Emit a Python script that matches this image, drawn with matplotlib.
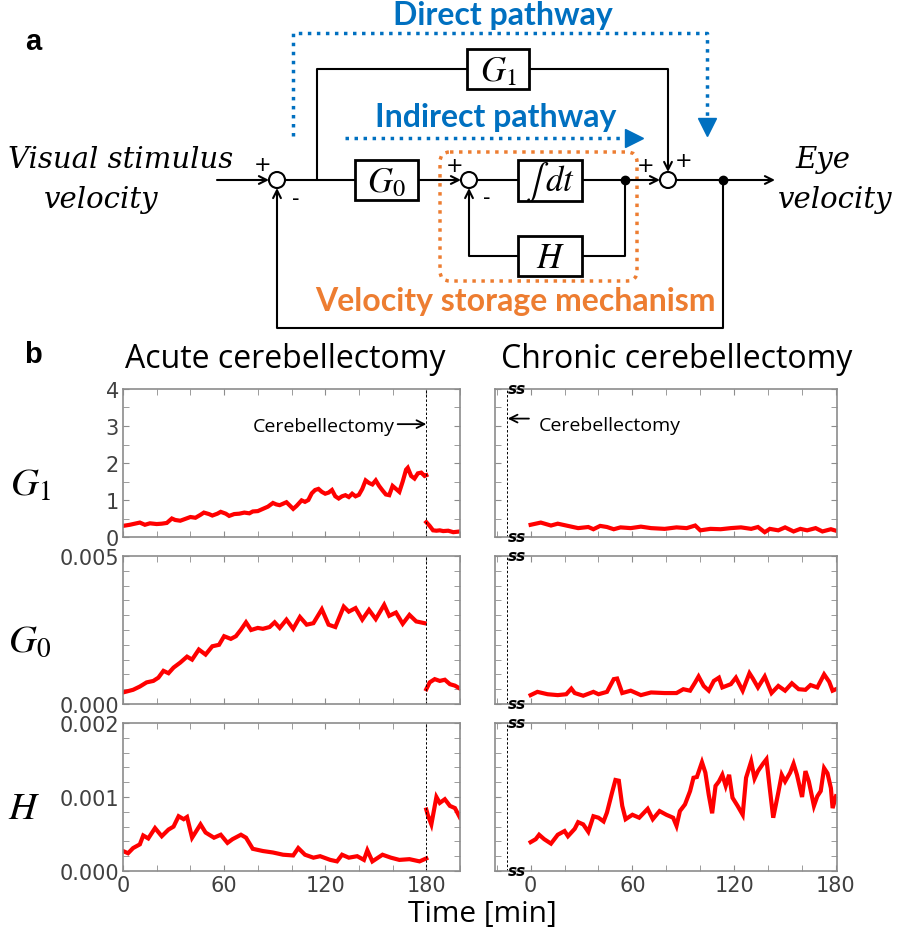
import numpy as np
import matplotlib.pyplot as plt
from matplotlib.patches import FancyBboxPatch, Circle, Rectangle
from matplotlib.ticker import MultipleLocator
from matplotlib.transforms import blended_transform_factory

plt.rcParams['mathtext.fontset'] = 'stix'

# ---- data ----
# acute cerebellectomy, before (0-180 min) and after (180-200 min)
g1_acute_t = [0, 4, 7, 10, 13, 16, 20, 23, 26, 29, 31, 34, 37, 40, 43, 46, 48, 51, 53, 56, 58, 61, 63, 66,
              69, 72, 75, 77, 80, 83, 86, 89, 91, 93, 95, 97, 99, 101, 103, 106, 108, 110, 112, 114, 116,
              118, 120, 122, 124, 126, 128, 130, 132, 134, 136, 138, 140, 142, 144, 146, 148, 150, 152,
              154, 156, 158, 160, 162, 164, 166, 168, 169, 171, 173, 175, 177, 179, 180]
g1_acute = [0.30, 0.33, 0.36, 0.39, 0.33, 0.37, 0.35, 0.36, 0.38, 0.50, 0.46, 0.44, 0.49, 0.54, 0.52, 0.60,
            0.66, 0.62, 0.58, 0.63, 0.68, 0.63, 0.57, 0.62, 0.63, 0.66, 0.64, 0.69, 0.70, 0.76, 0.82, 0.92,
            0.88, 0.86, 0.90, 0.94, 0.85, 0.76, 0.84, 0.99, 0.95, 1.00, 1.18, 1.27, 1.30, 1.22, 1.17, 1.20,
            1.27, 1.10, 1.04, 1.10, 1.13, 1.08, 1.17, 1.10, 1.14, 1.30, 1.53, 1.46, 1.42, 1.53, 1.38, 1.26,
            1.15, 1.13, 1.38, 1.30, 1.22, 1.50, 1.82, 1.87, 1.65, 1.58, 1.72, 1.74, 1.65, 1.67]
g1_post_t = [180, 182, 184, 186, 188, 190, 193, 196, 198, 200]
g1_post = [0.40, 0.30, 0.18, 0.17, 0.18, 0.16, 0.17, 0.13, 0.14, 0.15]

g0_acute_t = [0, 6, 10, 14, 18, 21, 24, 27, 30, 34, 38, 41, 45, 49, 53, 57, 60, 64, 67, 70, 73, 76, 80,
              83, 87, 90, 93, 97, 101, 105, 109, 113, 118, 122, 126, 131, 134, 138, 142, 146, 150, 155,
              158, 162, 166, 170, 174, 179]
g0_acute = [0.00039, 0.00048, 0.00059, 0.00073, 0.00078, 0.00089, 0.00112, 0.00104, 0.00123, 0.00140,
            0.00160, 0.00150, 0.00184, 0.00167, 0.00195, 0.00200, 0.00229, 0.00220, 0.00229, 0.00251,
            0.00276, 0.00250, 0.00257, 0.00254, 0.00260, 0.00276, 0.00257, 0.00285, 0.00254, 0.00294,
            0.00268, 0.00273, 0.00320, 0.00268, 0.00260, 0.00329, 0.00312, 0.00324, 0.00285, 0.00318,
            0.00287, 0.00335, 0.00298, 0.00309, 0.00271, 0.00301, 0.00279, 0.00273]
g0_post_t = [180, 182, 185, 188, 191, 194, 197, 200]
g0_post = [0.00050, 0.00073, 0.00084, 0.00078, 0.00082, 0.00067, 0.00062, 0.00052]

h_acute_t = [0, 3, 6, 10, 12, 15, 19, 23, 27, 30, 33, 36, 38, 41, 46, 49, 54, 58, 62, 65, 70, 73, 77, 83,
             89, 95, 101, 104, 108, 113, 117, 123, 127, 130, 134, 139, 143, 145, 148, 154, 159, 164, 170,
             176, 180]
h_acute = [0.00027, 0.00024, 0.00031, 0.00036, 0.00048, 0.00044, 0.00058, 0.00047, 0.00056, 0.00060,
           0.00074, 0.00070, 0.00073, 0.00045, 0.00063, 0.00052, 0.00045, 0.00049, 0.00038, 0.00043,
           0.00049, 0.00045, 0.00030, 0.00027, 0.00025, 0.00022, 0.00021, 0.00031, 0.00022, 0.00018,
           0.00020, 0.00015, 0.00013, 0.00022, 0.00018, 0.00020, 0.00015, 0.00028, 0.00013, 0.00022,
           0.00018, 0.00015, 0.00016, 0.00013, 0.00017]
h_post_t = [180, 181, 183, 186, 188, 191, 194, 197, 200]
h_post = [0.00083, 0.00075, 0.00063, 0.00100, 0.00092, 0.00097, 0.00088, 0.00085, 0.00072]

# chronic cerebellectomy (0-180 min)
g1_chronic_t = [0, 6, 12, 16, 22, 28, 34, 37, 41, 45, 49, 53, 59, 65, 71, 79, 86, 92, 97, 100, 106, 112,
                118, 124, 130, 134, 138, 141, 146, 150, 155, 159, 163, 168, 172, 177, 180]
g1_chronic = [0.33, 0.39, 0.31, 0.36, 0.30, 0.24, 0.27, 0.21, 0.30, 0.27, 0.21, 0.26, 0.24, 0.28, 0.24,
              0.22, 0.26, 0.24, 0.31, 0.18, 0.22, 0.21, 0.24, 0.26, 0.22, 0.27, 0.13, 0.22, 0.18, 0.26,
              0.15, 0.22, 0.18, 0.24, 0.15, 0.21, 0.17]

g0_chronic_t = [0, 4, 10, 16, 21, 24, 26, 31, 37, 40, 45, 49, 51, 54, 59, 65, 71, 79, 86, 90, 94, 97, 99,
                102, 105, 108, 111, 113, 118, 121, 125, 129, 131, 134, 138, 142, 146, 150, 154, 158, 162,
                165, 169, 173, 176, 178, 180]
g0_chronic = [0.00030, 0.00041, 0.00033, 0.00030, 0.00033, 0.00052, 0.00037, 0.00028, 0.00041, 0.00033,
              0.00041, 0.00084, 0.00086, 0.00037, 0.00045, 0.00030, 0.00039, 0.00037, 0.00037, 0.00050,
              0.00045, 0.00073, 0.00093, 0.00061, 0.00045, 0.00078, 0.00089, 0.00056, 0.00067, 0.00089,
              0.00045, 0.00104, 0.00086, 0.00056, 0.00093, 0.00037, 0.00061, 0.00045, 0.00070, 0.00050,
              0.00048, 0.00064, 0.00056, 0.00100, 0.00075, 0.00045, 0.00050]

h_chronic_t = [0, 3, 5, 8, 12, 16, 20, 22, 26, 28, 31, 34, 37, 40, 43, 45, 48, 50, 52, 54, 56, 60, 64, 69,
               72, 76, 80, 84, 86, 88, 91, 94, 96, 98, 101, 103, 105, 107, 109, 111, 113, 115, 117, 119,
               122, 125, 127, 130, 132, 134, 137, 139, 141, 143, 146, 148, 150, 153, 155, 157, 160, 162,
               164, 167, 169, 171, 173, 175, 177, 178, 180]
h_chronic = [0.00039, 0.00043, 0.00049, 0.00043, 0.00037, 0.00049, 0.00054, 0.00047, 0.00057, 0.00066,
             0.00063, 0.00053, 0.00074, 0.00072, 0.00067, 0.00079, 0.00106, 0.00123, 0.00122, 0.00088,
             0.00070, 0.00076, 0.00072, 0.00084, 0.00070, 0.00081, 0.00076, 0.00072, 0.00061, 0.00081,
             0.00090, 0.00108, 0.00126, 0.00127, 0.00147, 0.00133, 0.00103, 0.00078, 0.00115, 0.00121,
             0.00130, 0.00115, 0.00130, 0.00099, 0.00088, 0.00076, 0.00126, 0.00148, 0.00125, 0.00135,
             0.00145, 0.00151, 0.00111, 0.00072, 0.00106, 0.00130, 0.00121, 0.00133, 0.00145, 0.00130,
             0.00100, 0.00135, 0.00121, 0.00088, 0.00101, 0.00108, 0.00139, 0.00132, 0.00112, 0.00085,
             0.00101]

row_names = [r'$G_1$', r'$G_0$', r'$H$']
row_ylims = [(0, 4), (0, 0.005), (0, 0.002)]
row_major = [1, 0.005, 0.001]
row_minor = [0.5, 0.0005, 0.0002]
row_fmt = ['{:.0f}', '{:.3f}', '{:.3f}']
x_ticks = [0, 60, 120, 180]

# ---- figure ----
fig = plt.figure(figsize=(8.98, 9.37), dpi=100)

# overlay in pixel coordinates for the block diagram and labels
ov = fig.add_axes([0, 0, 1, 1])
ov.set_xlim(0, 898)
ov.set_ylim(937, 0)
ov.axis('off')

K = 'black'
LW = 1.5
BLUE = '#0070C0'
ORANGE = '#ED7D31'
SERIF = dict(family='DejaVu Serif', style='italic', fontsize=21, ha='center', va='center')


def line(xs, ys):
    ov.plot(xs, ys, color=K, lw=LW, solid_capstyle='butt', zorder=2)


def arrow(x0, y0, x1, y1):
    ov.annotate('', xy=(x1, y1), xytext=(x0, y0),
                arrowprops=dict(arrowstyle='->', color=K, lw=LW, shrinkA=0, shrinkB=0,
                                mutation_scale=14), zorder=2)


def box(x0, x1, y0, y1, label):
    ov.add_patch(Rectangle((x0, y0), x1 - x0, y1 - y0, fill=True, fc='white', ec=K, lw=2, zorder=3))
    ov.text((x0 + x1) / 2, (y0 + y1) / 2 + 1, label, fontsize=25, ha='center', va='center', zorder=4)


def summer(x, y):
    ov.add_patch(Circle((x, y), 8, fc='white', ec=K, lw=1.5, zorder=4))


# orange velocity storage box
ov.add_patch(FancyBboxPatch((440, 153), 197, 129, boxstyle='round,pad=0,rounding_size=10',
                            fill=False, ec=ORANGE, lw=2.5, ls=(0, (1, 1.6)), zorder=1))

# main forward path
arrow(217, 181, 269, 181)
line([285, 355], [181, 181])
arrow(418, 181, 461, 181)
line([477, 518], [181, 181])
line([582, 625], [181, 181])
arrow(625, 181, 660, 181)
line([676, 723], [181, 181])
arrow(723, 181, 775, 181)
# inner loop with H
line([625, 625, 582], [181, 257, 257])
line([518, 469], [257, 257])
arrow(469, 257, 469, 189)
# G1 branch
line([317, 317, 467], [181, 70, 70])
line([529, 668], [70, 70])
arrow(668, 70, 668, 173)
# outer feedback
line([723, 723, 277], [181, 329, 329])
arrow(277, 329, 277, 189)

for cx in (277, 469, 668):
    summer(cx, 181)
for dx in (625, 723):
    ov.plot(dx, 181, 'o', color=K, ms=6, zorder=5)

box(355, 418, 161, 201, r'$G_0$')
box(518, 582, 161, 202, r'$\int\,dt$')
box(518, 582, 237, 277, r'$H$')
box(467, 529, 50, 90, r'$G_1$')

for (sx, sy, s) in [(263, 165, '+'), (296, 199, '-'), (455, 166, '+'), (487, 198, '-'),
                    (646, 166, '+'), (684, 161, '+')]:
    ov.text(sx, sy, s, fontsize=15, ha='center', va='center', zorder=5)

# blue pathways
ov.plot([293, 293, 707, 707], [137, 34, 34, 122], color=BLUE, lw=2.5, ls=(0, (1, 1.6)), zorder=1)
ov.plot(707, 128, marker='v', color=BLUE, ms=13, zorder=1)
ov.plot([345, 628], [139, 139], color=BLUE, lw=2.5, ls=(0, (1, 1.6)), zorder=1)
ov.plot(634, 139, marker='>', color=BLUE, ms=13, zorder=1)

ov.text(503, 15, 'Direct pathway', color=BLUE, fontsize=23, fontweight='bold', family='Lato',
        ha='center', va='center')
ov.text(496, 117, 'Indirect pathway', color=BLUE, fontsize=23, fontweight='bold', family='Lato',
        ha='center', va='center')
ov.text(515, 302, 'Velocity storage mechanism', color=ORANGE, fontsize=23, fontweight='bold',
        family='Lato', ha='center', va='center')

ov.text(121, 160, 'Visual stimulus', **SERIF)
ov.text(101, 200, 'velocity', **SERIF)
ov.text(823, 160, 'Eye', **SERIF)
ov.text(835, 200, 'velocity', **SERIF)

ov.text(33, 42, 'a', fontsize=21, fontweight='bold', family='Liberation Sans', ha='center', va='center')
ov.text(33, 355, 'b', fontsize=21, fontweight='bold', family='Liberation Sans', ha='center', va='center')

ov.text(285, 360, 'Acute cerebellectomy', fontsize=23, family='Open Sans', ha='center', va='center')
ov.text(677, 360, 'Chronic cerebellectomy', fontsize=23, family='Open Sans', ha='center', va='center')
ov.text(482, 915, 'Time [min]', fontsize=21.5, family='Open Sans', ha='center', va='center')

for (lx, ly, name) in [(30, 485, row_names[0]), (30, 641, row_names[1]), (24, 808, row_names[2])]:
    ov.text(lx, ly, name, fontsize=28, ha='center', va='center')

# ---- data panels ----
row_bottoms = [1 - 538 / 937, 1 - 705 / 937, 1 - 872 / 937]
row_h = 148 / 937
left_x, left_w = 123 / 898, 337 / 898
right_x, right_w = 495 / 898, 342 / 898

acute = [(g1_acute_t, g1_acute, g1_post_t, g1_post),
         (g0_acute_t, g0_acute, g0_post_t, g0_post),
         (h_acute_t, h_acute, h_post_t, h_post)]
chronic = [(g1_chronic_t, g1_chronic), (g0_chronic_t, g0_chronic), (h_chronic_t, h_chronic)]

GRAY = '#8c8c8c'
RED = '#ff0000'


def style(ax, i, show_y):
    for sp in ax.spines.values():
        sp.set_color(GRAY)
        sp.set_linewidth(1.2)
    ax.set_ylim(*row_ylims[i])
    ax.yaxis.set_major_locator(MultipleLocator(row_major[i]))
    ax.yaxis.set_minor_locator(MultipleLocator(row_minor[i]))
    ax.xaxis.set_major_locator(MultipleLocator(60))
    ax.xaxis.set_minor_locator(MultipleLocator(20))
    ax.tick_params(which='both', direction='in', length=4, color=GRAY, top=True, right=True,
                   labelsize=15, labelcolor='#404040', pad=3)
    if show_y:
        ax.set_yticks(np.arange(row_ylims[i][0], row_ylims[i][1] + row_major[i] / 2, row_major[i]))
        ax.set_yticklabels([row_fmt[i].format(v) for v in ax.get_yticks()])
    else:
        ax.set_yticklabels([])
    if i == 2:
        ax.set_xticks(x_ticks)
        ax.set_xticklabels([str(v) for v in x_ticks])
    else:
        ax.set_xticklabels([])


for i in range(3):
    ax = fig.add_axes([left_x, row_bottoms[i], left_w, row_h])
    t0, v0, t1, v1 = acute[i]
    ax.plot(t0, v0, color=RED, lw=3, solid_joinstyle='miter')
    ax.plot(t1, v1, color=RED, lw=3, solid_joinstyle='miter')
    ax.axvline(180, color='black', lw=0.7, ls=(0, (2.5, 2)))
    ax.set_xlim(0, 200)
    style(ax, i, True)
    if i == 0:
        ax.annotate('', xy=(180, 3.05), xytext=(163, 3.05),
                    arrowprops=dict(arrowstyle='->', lw=1.3, color='black', shrinkA=0, shrinkB=0,
                                    mutation_scale=14))
        ax.text(161, 3.0, 'Cerebellectomy', fontsize=14, family='Open Sans', ha='right', va='center')

    ax2 = fig.add_axes([right_x, row_bottoms[i], right_w, row_h])
    tc, vc = chronic[i]
    ax2.plot(tc, vc, color=RED, lw=3, solid_joinstyle='miter')
    ax2.axvline(-14, color='black', lw=0.7, ls=(0, (2.5, 2)))
    ax2.set_xlim(-21, 180.6)
    style(ax2, i, False)
    tr = blended_transform_factory(ax2.transData, ax2.transAxes)
    for yy in (0, 1):
        ax2.text(-8, yy, 'ss', transform=tr, fontsize=11, fontweight='bold', ha='center', va='center',
                 family='DejaVu Sans', style='italic', clip_on=False, zorder=6)
    if i == 0:
        ax2.annotate('', xy=(-13.5, 3.2), xytext=(-1, 3.2),
                     arrowprops=dict(arrowstyle='->', lw=1.3, color='black', shrinkA=0, shrinkB=0,
                                     mutation_scale=14))
        ax2.text(5, 3.03, 'Cerebellectomy', fontsize=14, family='Open Sans', ha='left', va='center')

fig.savefig('out.png', dpi=100)
